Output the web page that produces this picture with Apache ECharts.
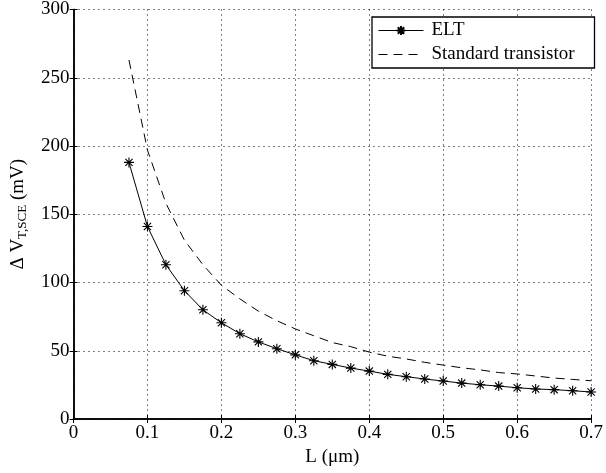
<!DOCTYPE html>
<html><head><meta charset="utf-8">
<script src="https://cdn.jsdelivr.net/npm/echarts@6/dist/echarts.min.js"></script>
<style>html,body{margin:0;padding:0;background:#fff}#c{width:606px;height:473px}</style>
</head><body><div id="c"></div>
<script>
const L = [0.075,0.1,0.125,0.15,0.175,0.2,0.225,0.25,0.275,0.3,0.325,0.35,0.375,0.4,0.425,0.45,0.475,0.5,0.525,0.55,0.575,0.6,0.625,0.65,0.675,0.7];
const elt = [188,141,113,94,80,70.5,62.5,56.5,51.5,47,42.7,40,37.3,35.1,32.7,31,29.3,27.8,26.3,25.1,24.1,22.9,22,21.5,20.7,19.8];
const standard = [263,197,158,131,113,98,88,79,72,66,61,56,53,49,46,44,41.5,39.5,37.5,36,34,33,31.5,30,29,28];
const xTicks = [0,0.1,0.2,0.3,0.4,0.5,0.6,0.7];
const yTicks = [0,50,100,150,200,250,300];

const FONT = 'Liberation Serif';
const FS = 19;
const star = 'path://M0,-5L0,5M-5,0L5,0M-3.6,-3.6L3.6,3.6M-3.6,3.6L3.6,-3.6';
const chart = echarts.init(document.getElementById('c'));
const axisCommon = {
  axisLine:{show:true,lineStyle:{color:'#000',width:1.5}},
  axisTick:{show:true,inside:true,length:4,lineStyle:{color:'#000'}},
};
chart.setOption({
  animation:false,
  backgroundColor:'#fff',
  grid:{left:73.5,right:10.5,top:9,bottom:54,containLabel:false},
  legend:{
    left:372, top:17, orient:'vertical', width:222,
    backgroundColor:'#fff', borderColor:'#000', borderWidth:1.3, borderRadius:0,
    padding:[4,20,4,6], itemGap:5, itemWidth:45, itemHeight:11,
    textStyle:{fontFamily:FONT,fontSize:FS,color:'#000',padding:[0,0,0,3]},
    lineStyle:{width:1},
    data:[{name:'ELT'},{name:'Standard transistor',itemStyle:{opacity:0}}]
  },
  xAxis:[{
    type:'value', min:0, max:0.7, interval:0.1, position:'bottom',
    name:'L (μm)', nameLocation:'middle', nameGap:28,
    nameTextStyle:{fontFamily:FONT,fontSize:FS,color:'#000'},
    ...axisCommon,
    axisLabel:{fontFamily:FONT,fontSize:FS,color:'#000',margin:5,formatter:v=>xTicks.includes(+v.toFixed(1))?String(+v.toFixed(1)):''},
    splitLine:{show:true,lineStyle:{color:'#000',type:[1,4],width:1}}
  },{
    type:'value', min:0, max:0.7, interval:0.1, position:'top',
    ...axisCommon, axisLabel:{show:false}, splitLine:{show:false}
  }],
  yAxis:[{
    type:'value', min:0, max:300, interval:50, position:'left',
    name:'{a|Δ V}{s|T,SCE}{a| (mV)}', nameLocation:'middle', nameGap:44, nameRotate:90,
    nameTextStyle:{rich:{a:{fontFamily:FONT,fontSize:FS,color:'#000'},s:{fontFamily:FONT,fontSize:13,color:'#000',verticalAlign:'bottom',padding:[10,0,0,0]}}},
    ...axisCommon,
    axisLabel:{fontFamily:FONT,fontSize:FS,color:'#000',margin:4,formatter:v=>yTicks.includes(v)?String(v):''},
    splitLine:{show:true,lineStyle:{color:'#000',type:[1,4],width:1}}
  },{
    type:'value', min:0, max:300, interval:50, position:'right',
    ...axisCommon, axisLabel:{show:false}, splitLine:{show:false}
  }],
  series:[{
    name:'ELT', type:'line',
    data:L.map((x,i)=>[x,elt[i]]),
    symbol:star, symbolSize:10, showAllSymbol:true,
    lineStyle:{color:'#000',width:1},
    itemStyle:{color:'rgba(0,0,0,0)',borderColor:'#000',borderWidth:1.1},
    z:3
  },{
    name:'Standard transistor', type:'line',
    data:L.map((x,i)=>[x,standard[i]]),
    symbol:'none',
    lineStyle:{color:'#000',width:1,type:[9,6]},
    itemStyle:{color:'#000'}
  }]
});
</script></body></html>
